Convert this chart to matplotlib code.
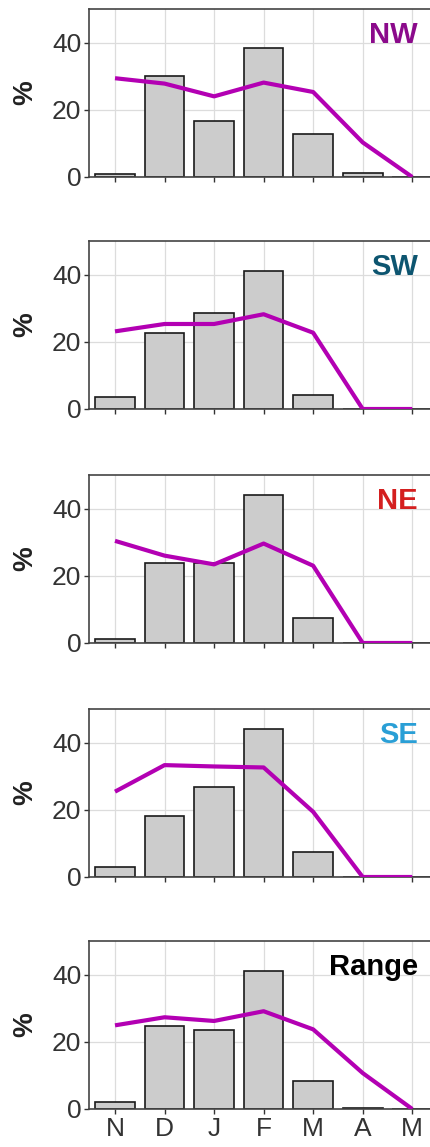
import numpy as np
import matplotlib.pyplot as plt

plt.rcParams['font.family'] = ['Liberation Sans', 'DejaVu Sans']

months = ['N', 'D', 'J', 'F', 'M', 'A', 'M']
panel_names = ['NW', 'SW', 'NE', 'SE', 'Range']
name_colors = ['#8b0a8b', '#0d5570', '#d41f1f', '#2a9fd6', '#000000']

# bar values (%)
nw_bars = [0.9, 30.0, 16.6, 38.4, 12.9, 1.3, 0.0]
sw_bars = [3.7, 22.6, 28.7, 41.2, 4.3, 0.0, 0.0]
ne_bars = [1.1, 23.7, 23.7, 44.1, 7.5, 0.0, 0.0]
se_bars = [3.1, 18.2, 26.9, 44.1, 7.4, 0.0, 0.0]
range_bars = [2.2, 24.7, 23.4, 41.0, 8.2, 0.4, 0.0]

# line values (%)
nw_line = [29.4, 27.8, 24.0, 28.1, 25.3, 10.3, 0.0]
sw_line = [23.1, 25.3, 25.3, 28.2, 22.7, 0.0, 0.0]
ne_line = [30.4, 26.0, 23.4, 29.6, 23.0, 0.0, 0.0]
se_line = [25.4, 33.3, 32.9, 32.6, 19.4, 0.0, 0.0]
range_line = [24.9, 27.3, 26.2, 29.1, 23.7, 10.7, 0.0]

bars = [nw_bars, sw_bars, ne_bars, se_bars, range_bars]
lines = [nw_line, sw_line, ne_line, se_line, range_line]

W, H = 430, 1147
fig = plt.figure(figsize=(W / 100, H / 100), dpi=100)

tops = [9, 241, 475, 709, 941]
ax_h = 168
left, right = 89, 437

x = np.arange(len(months))
for i in range(5):
    ax = fig.add_axes([left / W, 1 - (tops[i] + ax_h) / H, (right - left) / W, ax_h / H])
    ax.grid(True, color='#dcdcdc', linewidth=0.9, zorder=0)
    ax.set_axisbelow(True)
    ax.bar(x, bars[i], width=0.8, color='#cccccc', edgecolor='#1a1a1a', linewidth=1.2, zorder=2)
    ax.plot(x, lines[i], color='#b300b3', linewidth=3, zorder=3, solid_capstyle='butt')
    ax.set_xlim(-0.525, 6.5)
    ax.set_ylim(0, 50)
    ax.set_yticks([0, 20, 40])
    ax.set_xticks(x)
    if i == 4:
        ax.set_xticklabels(months)
    else:
        ax.set_xticklabels([])
    ax.tick_params(axis='both', labelsize=19, colors='#333333', length=3.5, width=1, pad=2)
    for sp in ax.spines.values():
        sp.set_color('#444444')
        sp.set_linewidth(1.2)
    ax.spines['right'].set_visible(False)
    ax.set_ylabel('%', fontsize=20, fontweight='bold', color='#222222', labelpad=10)
    ax.text(0.945, 0.93, panel_names[i], transform=ax.transAxes, ha='right', va='top',
            fontsize=21, fontweight='bold', color=name_colors[i])

fig.savefig('out.png', dpi=100)
